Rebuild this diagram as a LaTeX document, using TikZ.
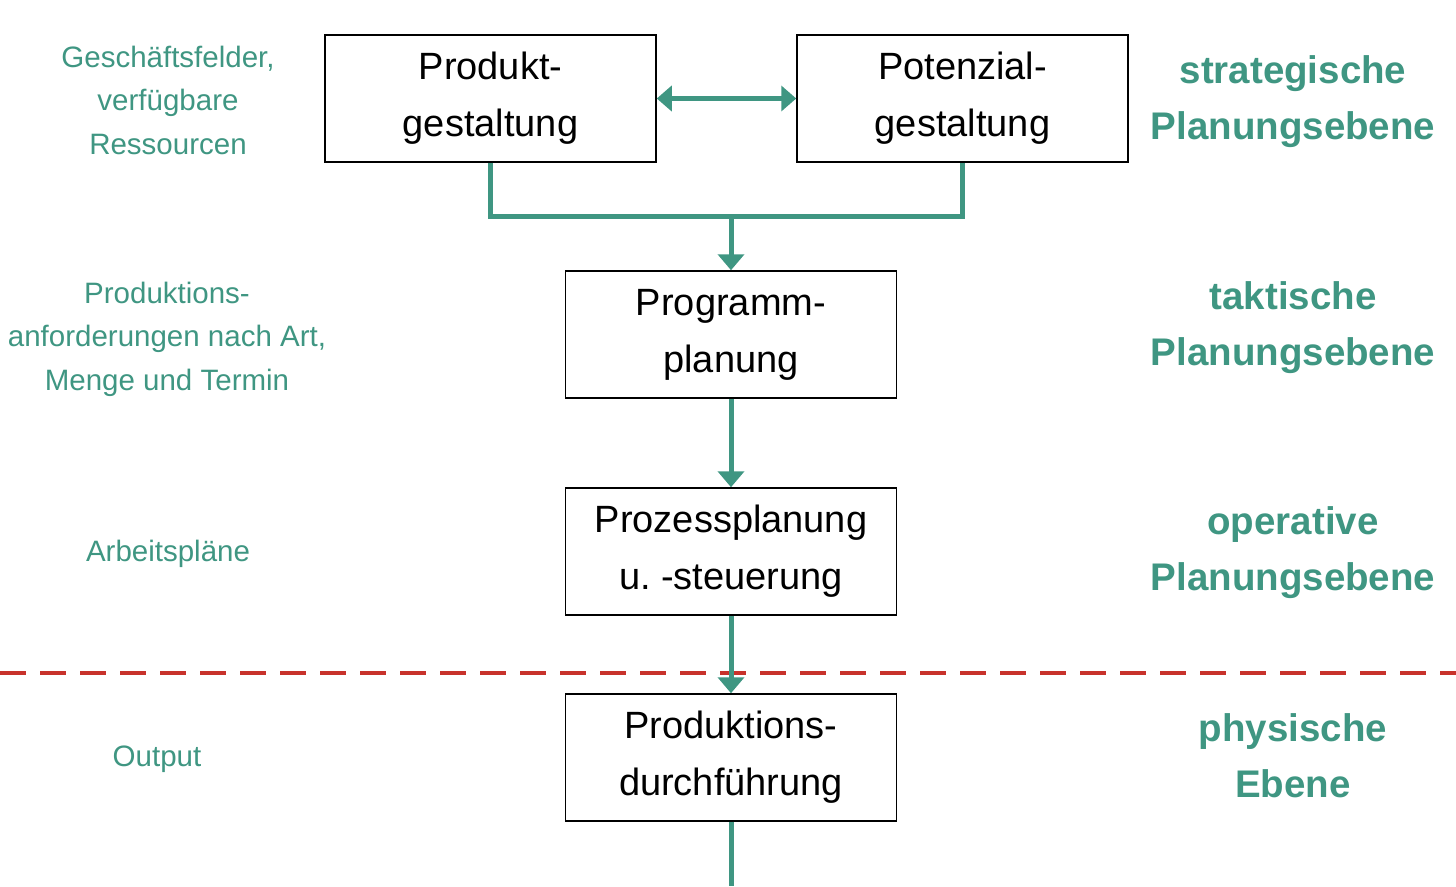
\documentclass[tikz,border=0pt]{standalone}
\usepackage{fontspec}
\setmainfont{Liberation Sans}
\usetikzlibrary{arrows.meta}
\definecolor{planteal}{HTML}{3F9682}
\definecolor{cutred}{HTML}{C8322B}
\frenchspacing

\begin{document}
\begin{tikzpicture}[x=1pt, y=-1pt,
  stage/.style={draw, line width=1.5pt, minimum width=331pt, minimum height=127pt, align=center, font=\fontsize{38}{57}\selectfont},
  input/.style={text=planteal, align=center, font=\fontsize{29.5}{43.5}\selectfont},
  level/.style={text=planteal, align=center, font=\bfseries\fontsize{38.5}{55.5}\selectfont},
  flow/.style={draw=planteal, line width=5pt, -{Triangle[length=16pt, width=26pt]}}]
  \useasboundingbox (0,0) rectangle (1456,886);
  % Planungsbausteine
  \node[stage] (prod) at (490.5, 98.5) {Produkt-\\gestaltung};
  \node[stage] (pot) at (962.5, 98.5) {Potenzial-\\gestaltung};
  \node[stage] (prog) at (731, 334.5) {Programm-\\planung};
  \node[stage] (proz) at (731, 551.5) {Prozessplanung\\u. -steuerung};
  \node[stage] (durch) at (731, 757.5) {Produktions-\\durchf\"uhrung};
  % Eingaben links
  \node[input] (in1) at (168, 100) {Gesch\"aftsfelder,\\verf\"ugbare\\Ressourcen};
  \node[input] (in2) at (167, 339) {Produktions-\\anforderungen nach Art,\\Menge und Termin};
  \node[input] (in3) at (168, 554) {Arbeitspl\"ane};
  \node[input] (in4) at (157, 759) {Output};
  % Ebenen rechts
  \node[level] (lv1) at (1293, 101.5) {strategische\\Planungsebene};
  \node[level] (lv2) at (1293, 327.5) {taktische\\Planungsebene};
  \node[level] (lv3) at (1293, 552.5) {operative\\Planungsebene};
  \node[level] (lv4) at (1293, 755.5) {physische\\Ebene};
  % Trennlinie
  \coordinate (cutL) at (0, 673);
  \coordinate (cutR) at (1456, 673);
  \draw[cutred, line width=3.5pt, dash pattern=on 26pt off 14pt] (cutL) -- (cutR);
  % Verbindungen
  \coordinate (join) at (731, 216);
  \coordinate (exit) at (731, 886);
  \draw[flow, {Triangle[length=15pt, width=25pt]}-{Triangle[length=15pt, width=25pt]}] (prod) -- (pot);
  \draw[draw=planteal, line width=5pt] (prod.south) |- (join) -| (pot.south);
  \draw[flow] (join) -- (prog);
  \draw[flow] (prog) -- (proz);
  \draw[flow] (proz) -- (durch);
  \draw[draw=planteal, line width=5pt] (durch) -- (exit);
\end{tikzpicture}
\end{document}
